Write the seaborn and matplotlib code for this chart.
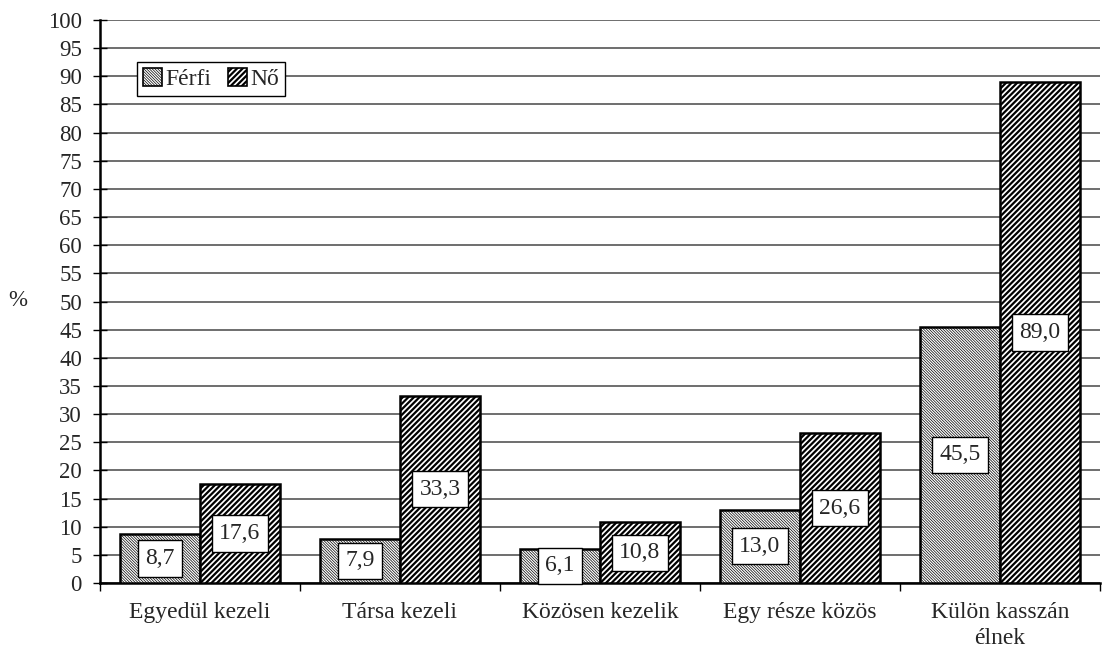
import matplotlib
matplotlib.use("Agg")
import matplotlib.pyplot as plt
import matplotlib.patches as mpatches
import seaborn as sns
import pandas as pd
import numpy as np

categories = ["Egyedül kezeli", "Társa kezeli", "Közösen kezelik", "Egy része közös", "Külön kasszán\nélnek"]
ferfi = [8.7, 7.9, 6.1, 13.0, 45.5]
no = [17.6, 33.3, 10.8, 26.6, 89.0]
series = ["Férfi", "Nő"]
yticks = list(range(0, 101, 5))

df = pd.DataFrame({
    "cat": categories * 2,
    "val": ferfi + no,
    "sex": [series[0]] * 5 + [series[1]] * 5,
})

sns.set_theme(style="white")
plt.rcParams["font.family"] = ["Liberation Serif", "DejaVu Serif"]
plt.rcParams["hatch.color"] = "black"

fig = plt.figure(figsize=(11.04, 6.66), dpi=100)
ax = fig.add_axes([100 / 1104, 83 / 666, 1000 / 1104, 563 / 666])

sns.barplot(data=df, x="cat", y="val", hue="sex", order=categories, hue_order=series,
            palette=["white", "white"], edgecolor="black", linewidth=1.8, width=0.8,
            ax=ax, legend=False, saturation=1)

hatches = ["\\" * 12, "/" * 6]
hlw = [0.5, 1.6]
has_hlw = False
for i, cont in enumerate(ax.containers):
    for p in cont.patches:
        p.set_hatch(hatches[i])
        p.set_zorder(3)
        if hasattr(p, "set_hatch_linewidth"):
            p.set_hatch_linewidth(hlw[i])
            has_hlw = True
if not has_hlw:
    plt.rcParams["hatch.linewidth"] = 1.2

ax.set_ylim(0, 100)
ax.set_xlim(-0.5, 4.5)
ax.set_yticks(yticks)
ax.set_yticklabels([str(v) for v in yticks], fontsize=16.5)
ax.yaxis.grid(True, color="#555555", linewidth=1.2, zorder=0)
ax.set_axisbelow(True)

ax.set_xticks(np.arange(-0.5, 5, 1))
ax.set_xticklabels([""] * 6)
ax.set_xticks(range(5), minor=True)
ax.set_xticklabels(categories, minor=True, fontsize=17, linespacing=1.3)
ax.tick_params(axis="x", which="major", direction="out", length=6, width=1, color="black", bottom=True)
ax.tick_params(axis="x", which="minor", length=0, pad=14)
ax.tick_params(axis="y", direction="inout", length=10, width=1, color="black", left=True, pad=8)
ax.set_xlabel("")
ax.set_ylabel("")
fig.text(18 / 1104, 1 - 300 / 666, "%", fontsize=16.5, ha="center", va="center")

for s in ["top", "right"]:
    ax.spines[s].set_visible(False)
ax.spines["left"].set_color("black")
ax.spines["left"].set_linewidth(1.8)
ax.spines["bottom"].set_color("black")
ax.spines["bottom"].set_linewidth(1.8)

fmt = lambda v: f"{v:.1f}".replace(".", ",")
box = dict(boxstyle="square,pad=0.32", fc="white", ec="black", lw=1)
for ci, vals in enumerate([ferfi, no]):
    for i, v in enumerate(vals):
        p = ax.containers[ci].patches[i]
        xc = p.get_x() + p.get_width() / 2
        ax.text(xc, p.get_height() / 2, fmt(v), ha="center", va="center", fontsize=17,
                bbox=box, zorder=5)

handles = [mpatches.Patch(facecolor="white", edgecolor="black", hatch=hatches[i], label=s)
           for i, s in enumerate(series)]
leg = ax.legend(handles=handles, loc="upper left", bbox_to_anchor=(0.037, 0.925), ncol=2, fontsize=17,
                frameon=True, fancybox=False, edgecolor="black", framealpha=1,
                handlelength=0.8, handleheight=0.8, handletextpad=0.15, columnspacing=0.7,
                borderpad=0.25, borderaxespad=0)
leg.get_frame().set_linewidth(1)
for i, lh in enumerate(leg.legend_handles):
    lh.set_hatch(hatches[i])
    lh.set_linewidth(1.2)
    if hasattr(lh, "set_hatch_linewidth"):
        lh.set_hatch_linewidth(hlw[i])

fig.savefig("out.png", dpi=100)
